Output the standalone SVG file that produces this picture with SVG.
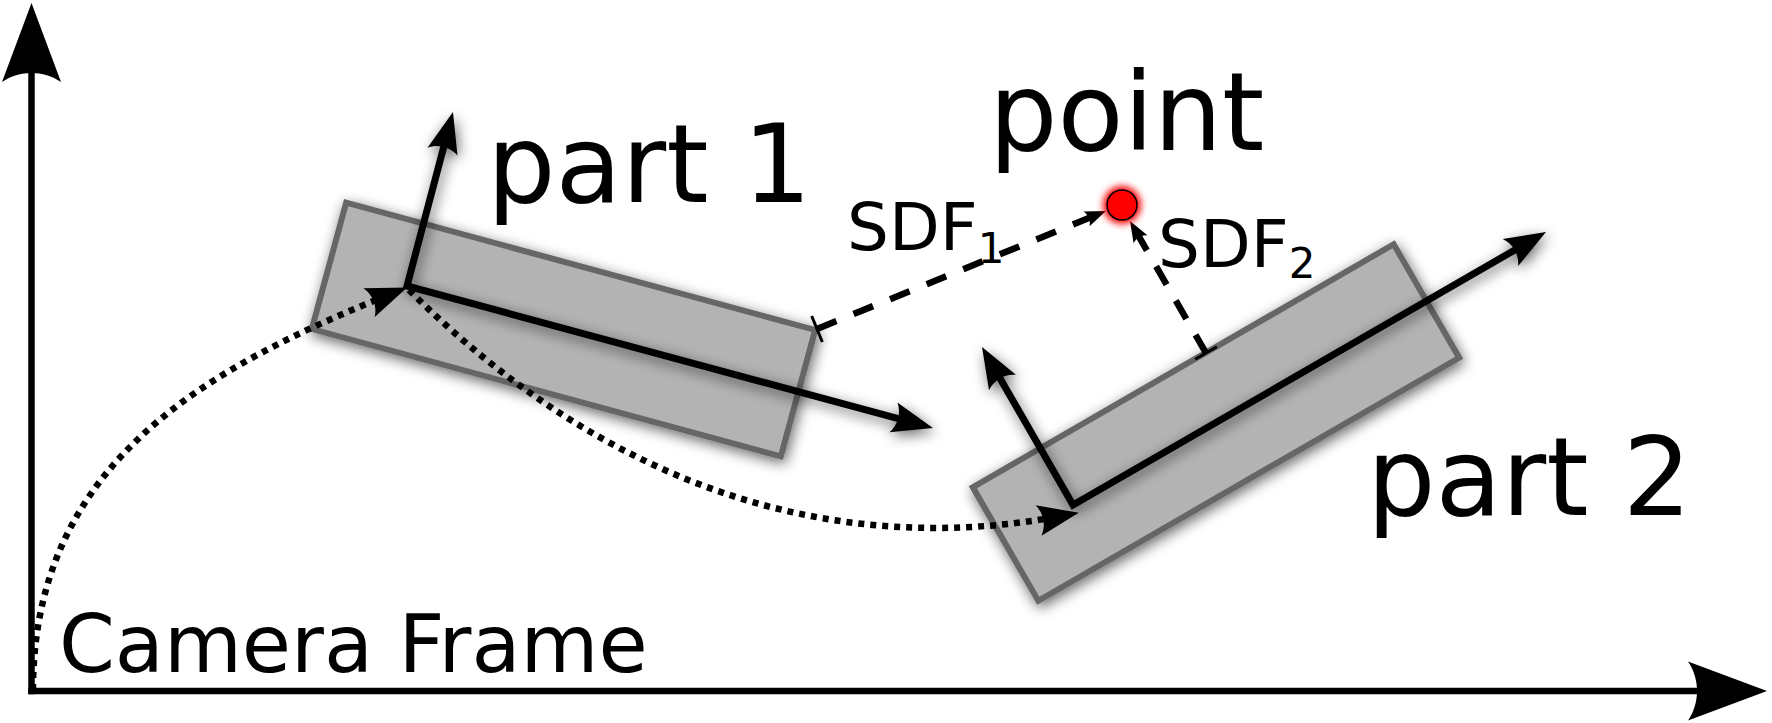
<svg xmlns="http://www.w3.org/2000/svg" width="1772" height="723" viewBox="0 0 1772 723">
  <style>
    .lbl { font-family: "DejaVu Sans", "Liberation Sans", sans-serif; fill: #000; }
    .big { font-size: 108px; }
    .axis { fill: none; stroke: #000; stroke-width: 6.5; }
    .part { fill: #b3b3b3; stroke: #666666; stroke-width: 6; }
    .frame { fill: none; stroke: #000; stroke-width: 7; stroke-linejoin: miter; }
    .dotted { fill: none; stroke: #000; stroke-width: 6.5; stroke-dasharray: 6 6; }
    .dashed { fill: none; stroke: #000; stroke-width: 6.5; stroke-dasharray: 21 18.5; }
    .tick { fill: none; stroke: #000; stroke-width: 3; }
    .head { fill: #000; stroke: none; }
  </style>
  <defs>
    <filter id="shadow" filterUnits="userSpaceOnUse" x="0" y="0" width="1772" height="723">
      <feGaussianBlur in="SourceAlpha" stdDeviation="7"/>
      <feOffset dx="2" dy="4" result="b"/>
      <feComponentTransfer><feFuncA type="linear" slope="0.6"/></feComponentTransfer>
      <feMerge><feMergeNode/><feMergeNode in="SourceGraphic"/></feMerge>
    </filter>
    <filter id="glow" x="-100%" y="-100%" width="300%" height="300%">
      <feGaussianBlur stdDeviation="3.5"/>
    </filter>
    <marker id="axisHead" markerUnits="userSpaceOnUse" orient="auto-start-reverse" refX="-20" refY="0" markerWidth="90" markerHeight="70" overflow="visible">
      <path class="head" d="M0,0 L-79,-29.5 C-67,-12 -67,12 -79,29.5 Z"/>
    </marker>
    <marker id="frameHead" markerUnits="userSpaceOnUse" orient="auto-start-reverse" refX="-12" refY="0" markerWidth="50" markerHeight="40" overflow="visible">
      <path class="head" d="M0,0 L-41,-15.5 C-34.5,-6 -34.5,6 -41,15.5 Z"/>
    </marker>
    <marker id="smallHead" markerUnits="userSpaceOnUse" orient="auto" refX="-10" refY="0" markerWidth="30" markerHeight="20" overflow="visible">
      <path class="head" d="M0,0 L-21,-8 C-17.6,-3 -17.6,3 -21,8 Z"/>
    </marker>
  </defs>

  <rect width="1772" height="723" fill="#ffffff"/>

  <g id="camera-frame">
    <path class="axis" d="M31.5,694.25 L31.5,23" marker-end="url(#axisHead)"/>
    <path class="axis" d="M28.25,691 L1747,691" marker-end="url(#axisHead)"/>
  </g>

  <g id="part1" filter="url(#shadow)">
    <rect class="part" x="-243" y="-65.5" width="486" height="131" transform="translate(563.5,329.5) rotate(15.2)"/>
  </g>

  <g id="part2" filter="url(#shadow)">
    <rect class="part" x="-243" y="-65.5" width="486" height="131" transform="translate(1216,422.5) rotate(-30)"/>
  </g>

  <g id="part1-frame" filter="url(#shadow)">
    <path class="frame" d="M449.9,123.6 L407,286 L921.4,424.9" marker-start="url(#frameHead)" marker-end="url(#frameHead)"/>
  </g>

  <g id="part2-frame" filter="url(#shadow)">
    <path class="frame" d="M988,357.4 L1073,505 L1535.6,238" marker-start="url(#frameHead)" marker-end="url(#frameHead)"/>
  </g>

  <g id="connectors">
    <path class="dotted" d="M33,690 C33,460 212,365 396,292" marker-end="url(#frameHead)"/>
    <path class="dotted" d="M409,290 C607,488 836,560 1067,515" marker-end="url(#frameHead)"/>
    <path class="dashed" d="M817,329 L1096.7,214.8" marker-end="url(#smallHead)"/>
    <path class="tick" d="M811.7,316 L822.3,342"/>
    <path class="dashed" d="M1206,353 L1135,229.7" marker-end="url(#smallHead)"/>
    <path class="tick" d="M1195.2,359.3 L1216.8,346.8"/>
  </g>

  <g id="point">
    <circle cx="1122" cy="205" r="19" fill="#ff0000" filter="url(#glow)"/>
    <circle cx="1122" cy="205" r="15" fill="#ff0000" stroke="#000" stroke-width="1.5"/>
  </g>

  <g id="labels">
    <text class="lbl big" x="989" y="150">point</text>
    <text class="lbl big" x="487" y="202">part 1</text>
    <text class="lbl big" x="1367" y="515">part 2</text>
    <text class="lbl" x="59" y="672" font-size="80">Camera Frame</text>
    <text class="lbl" x="847" y="250" font-size="66">SDF<tspan font-size="42" dy="13">1</tspan></text>
    <text class="lbl" x="1158" y="267" font-size="66">SDF<tspan font-size="42" dy="11">2</tspan></text>
  </g>
</svg>
